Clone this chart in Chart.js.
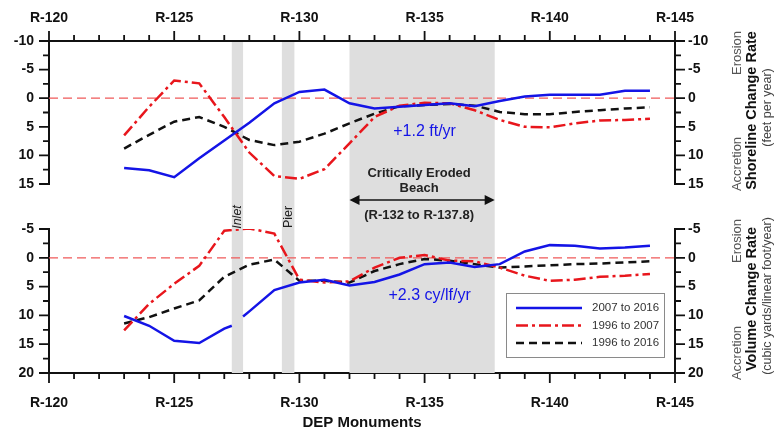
<!DOCTYPE html>
<html>
<head>
<meta charset="utf-8">
<script src="https://cdn.jsdelivr.net/npm/chart.js@4.4.0/dist/chart.umd.min.js"></script>
<style>
  html, body { margin: 0; padding: 0; background: #fff; }
  #wrap { position: relative; width: 776px; height: 428px; }
  #wrap canvas { position: absolute; left: 0; top: 0; }
</style>
</head>
<body>
<div id="wrap">
  <canvas id="vol" width="776" height="428"></canvas>
  <canvas id="shore" width="776" height="428"></canvas>
</div>
<script>
// monuments R-123 .. R-144
const monuments = [123,124,125,126,127,128,129,130,131,132,133,134,135,136,137,138,139,140,141,142,143,144];
const seriesNames = ['2007 to 2016', '1996 to 2007', '1996 to 2016'];

// shoreline change rate (ft/yr), negative = erosion
const shoreBlue  = [12.2,12.6,13.8,10.5,7.4,4.3,0.9,-1.1,-1.5,0.9,1.8,1.5,1.2,0.9,1.4,0.5,-0.3,-0.6,-0.6,-0.6,-1.3,-1.3];
const shoreRed   = [6.5,1.5,-3.1,-2.6,3.3,9.5,13.6,14.1,12.4,7.9,3.3,1.3,0.8,0.9,2.1,3.8,5.0,5.1,4.4,3.9,3.8,3.6];
const shoreBlack = [8.8,6.4,4.1,3.3,5.0,7.3,8.2,7.6,6.2,4.4,2.7,1.4,1.2,1.0,1.3,2.4,2.8,2.8,2.4,2.1,1.8,1.6];

// volume change rate (cy/lf/yr)
const volBlue  = [10.1,11.8,14.4,14.8,12.3,9.3,5.6,4.3,3.8,4.8,4.2,2.9,1.1,0.8,1.6,1.1,-1.1,-2.2,-2.1,-1.6,-1.8,-2.1];
const volRed   = [12.6,8.0,4.5,1.4,-4.7,-5.1,-4.2,3.8,4.3,4.1,1.7,0.0,-0.5,0.5,0.6,1.7,3.1,4.0,3.8,3.3,3.1,2.8];
const volBlack = [11.4,10.3,8.8,7.4,3.3,1.2,0.3,4.0,4.0,4.3,2.3,1.1,0.2,0.5,1.1,1.7,1.5,1.3,1.1,1.0,0.8,0.6];
// blue volume line is broken across the inlet
const volBlueInletX = [127.3, 127.5, 127.75];
const volBlueInlet  = [11.8, null, 10.2];

const xTicks = [120,125,130,135,140,145];
const shoreTicks = [-10,-5,0,5,10,15];
const volTicks = [-5,0,5,10,15,20];

// shaded areas along the beach
const bandStart = [127.3, 129.3, 132];
const bandEnd   = [127.75, 129.8, 137.8];
const bandLabel = ['Inlet', 'Pier', ''];

const FONT = "'Liberation Sans', Arial, sans-serif";
const colors = ['#1414e6', '#e8161c', '#111111'];
const dashes = [[], [12,4,3,4], [8,5]];

function pts(xs, ys) { return xs.map((x, i) => ({x: x, y: ys[i]})); }

function makeSets(ys) {
  return ys.map((d, i) => ({
    label: seriesNames[i], data: d,
    borderColor: colors[i], borderDash: dashes[i], borderWidth: 2.5,
    pointRadius: 0, tension: 0, spanGaps: false, fill: false
  }));
}

function yScale(pos, lo, hi, ticks) {
  return {
    type: 'linear', position: pos, reverse: true, min: lo, max: hi,
    afterBuildTicks: s => { s.ticks = ticks.map(v => ({value: v})); },
    afterFit: s => { s.width = pos === 'left' ? 49 : 101; },
    grid: {display: false, drawTicks: false, tickLength: 0},
    border: {display: true, color: '#111', width: 2},
    ticks: {padding: pos === 'left' ? 15 : 13, color: '#111', font: {family: FONT, size: 14, weight: 'bold'}}
  };
}

function xScale(pos, h, pad, title) {
  return {
    type: 'linear', position: pos, min: 120, max: 145,
    afterBuildTicks: s => { s.ticks = xTicks.map(v => ({value: v})); },
    afterFit: s => { s.height = h; },
    grid: {display: false, drawTicks: false, tickLength: 0},
    border: {display: true, color: '#111', width: 2},
    ticks: {padding: pad, color: '#111', maxRotation: 0, autoSkip: false,
            font: {family: FONT, size: 14, weight: 'bold'}, callback: v => 'R-' + v},
    title: title ? {display: true, text: title, color: '#111', padding: 0,
                    font: {family: FONT, size: 15, weight: 'bold', lineHeight: 0.75}} : {display: false}
  };
}

function axisTicks(chart) {
  const {ctx, chartArea: a, scales} = chart;
  ctx.save();
  ctx.strokeStyle = '#111'; ctx.lineWidth = 1.8; ctx.setLineDash([]);
  ctx.beginPath();
  const x = scales.x;
  for (let v = x.min; v <= x.max; v++) {
    const px = x.getPixelForValue(v), len = v % 5 === 0 ? 10 : 6;
    if (x.position === 'top') { ctx.moveTo(px, a.top); ctx.lineTo(px, a.top - len); }
    else { ctx.moveTo(px, a.bottom); ctx.lineTo(px, a.bottom + len); }
  }
  [scales.y, scales.yR].forEach(s => {
    const x0 = s.position === 'left' ? a.left : a.right;
    const dir = s.position === 'left' ? -1 : 1;
    for (let v = s.min; v <= s.max; v += 2.5) {
      const py = s.getPixelForValue(v), len = v % 5 === 0 ? 10 : 6;
      ctx.moveTo(x0, py); ctx.lineTo(x0 + dir * len, py);
    }
  });
  ctx.stroke();
  ctx.restore();
}

function zeroLine(chart) {
  const {ctx, chartArea: a, scales} = chart;
  const y = scales.y.getPixelForValue(0);
  ctx.save();
  ctx.strokeStyle = '#f05a5a'; ctx.lineWidth = 1.2; ctx.setLineDash([9, 5]);
  ctx.beginPath(); ctx.moveTo(a.left, y); ctx.lineTo(a.right, y); ctx.stroke();
  ctx.restore();
}

function vText(ctx, text, x, y, font, color) {
  ctx.save();
  ctx.translate(x, y); ctx.rotate(-Math.PI / 2);
  ctx.font = font; ctx.fillStyle = color;
  ctx.textAlign = 'center'; ctx.textBaseline = 'middle';
  ctx.fillText(text, 0, 0);
  ctx.restore();
}

function sideTitles(chart, title, unit) {
  const {ctx, chartArea: a} = chart;
  const mid = (a.top + a.bottom) / 2;
  vText(ctx, 'Erosion', a.right + 62, a.top + 12, '13px ' + FONT, '#555');
  vText(ctx, 'Accretion', a.right + 62, a.bottom - 20, '13px ' + FONT, '#555');
  vText(ctx, title, a.right + 77, mid - 2, 'bold 14.5px ' + FONT, '#111');
  vText(ctx, unit, a.right + 93, mid - 5, '12.5px ' + FONT, '#444');
}

// ---------- top: shoreline change ----------
const shoreChart = new Chart(document.getElementById('shore'), {
  type: 'line',
  data: {datasets: makeSets([pts(monuments, shoreBlue), pts(monuments, shoreRed), pts(monuments, shoreBlack)])},
  options: {
    responsive: false, animation: false,
    layout: {padding: {left: 0, right: 0, top: 0, bottom: 244}},
    scales: {
      x: xScale('top', 41, 14),
      y: yScale('left', -10, 15, shoreTicks),
      yR: yScale('right', -10, 15, shoreTicks)
    },
    plugins: {legend: {display: false}, tooltip: {enabled: false}}
  },
  plugins: [{
    id: 'shoreDecor',
    beforeDatasetsDraw(chart) { zeroLine(chart); },
    afterDraw(chart) {
      const {ctx, chartArea: a, scales} = chart;
      axisTicks(chart);
      sideTitles(chart, 'Shoreline Change Rate', '(feet per year)');
      ctx.save();
      ctx.fillStyle = '#1414e6'; ctx.font = '16px ' + FONT;
      ctx.textAlign = 'center'; ctx.textBaseline = 'middle';
      ctx.fillText('+1.2 ft/yr', scales.x.getPixelForValue(135), scales.y.getPixelForValue(5.9));
      // critically eroded beach note
      const x0 = scales.x.getPixelForValue(bandStart[2]), x1 = scales.x.getPixelForValue(bandEnd[2]);
      const cx = (x0 + x1) / 2 - 3;
      ctx.fillStyle = '#222'; ctx.font = 'bold 13px ' + FONT;
      ctx.fillText('Critically Eroded', cx, a.bottom - 11);
      ctx.fillText('Beach', cx, a.bottom + 4);
      ctx.fillText('(R-132 to R-137.8)', cx, a.bottom + 31);
      const ay = a.bottom + 16;
      ctx.strokeStyle = '#111'; ctx.lineWidth = 1.5;
      ctx.beginPath(); ctx.moveTo(x0 + 8, ay); ctx.lineTo(x1 - 8, ay); ctx.stroke();
      ctx.fillStyle = '#111';
      ctx.beginPath(); ctx.moveTo(x0, ay); ctx.lineTo(x0 + 10, ay - 5); ctx.lineTo(x0 + 10, ay + 5); ctx.closePath(); ctx.fill();
      ctx.beginPath(); ctx.moveTo(x1, ay); ctx.lineTo(x1 - 10, ay - 5); ctx.lineTo(x1 - 10, ay + 5); ctx.closePath(); ctx.fill();
      ctx.restore();
    }
  }]
});

// ---------- bottom: volume change ----------
const blueVolPts = pts(monuments, volBlue).concat(pts(volBlueInletX, volBlueInlet)).sort((p, q) => p.x - q.x);
const plotTop = shoreChart.chartArea.top;

new Chart(document.getElementById('vol'), {
  type: 'line',
  data: {datasets: makeSets([blueVolPts, pts(monuments, volRed), pts(monuments, volBlack)])},
  options: {
    responsive: false, animation: false,
    layout: {padding: {left: 0, right: 0, top: 229, bottom: 0}},
    scales: {
      x: xScale('bottom', 55, 22, 'DEP Monuments'),
      y: yScale('left', -5, 20, volTicks),
      yR: yScale('right', -5, 20, volTicks)
    },
    plugins: {legend: {display: false}, tooltip: {enabled: false}}
  },
  plugins: [{
    id: 'volDecor',
    beforeDatasetsDraw(chart) {
      const {ctx, chartArea: a, scales} = chart;
      ctx.save();
      ctx.fillStyle = '#dedede';
      bandStart.forEach((s, i) => {
        const x0 = scales.x.getPixelForValue(s), x1 = scales.x.getPixelForValue(bandEnd[i]);
        ctx.fillRect(x0, plotTop, x1 - x0, a.bottom - plotTop);
      });
      ctx.restore();
      zeroLine(chart);
    },
    afterDatasetsDraw(chart) {
      const {ctx, chartArea: a, scales} = chart;
      bandLabel.forEach((t, i) => {
        if (!t) return;
        const cx = scales.x.getPixelForValue((bandStart[i] + bandEnd[i]) / 2);
        vText(ctx, t, cx, a.top - 12, (i === 0 ? 'italic ' : '') + '12.5px ' + FONT, '#222');
      });
    },
    afterDraw(chart) {
      const {ctx, chartArea: a, scales} = chart;
      axisTicks(chart);
      sideTitles(chart, 'Volume Change Rate', '(cubic yards/linear foot/year)');
      ctx.save();
      ctx.fillStyle = '#1414e6'; ctx.font = '16px ' + FONT;
      ctx.textAlign = 'center'; ctx.textBaseline = 'middle';
      ctx.fillText('+2.3 cy/lf/yr', scales.x.getPixelForValue(135.2), scales.y.getPixelForValue(6.6));
      // legend
      const lx = a.right - 169, ly = a.top + 64, lw = 158, lh = 64;
      ctx.fillStyle = '#fff'; ctx.fillRect(lx, ly, lw, lh);
      ctx.strokeStyle = '#8a8a8a'; ctx.lineWidth = 1; ctx.setLineDash([]);
      ctx.strokeRect(lx + 0.5, ly + 0.5, lw, lh);
      chart.data.datasets.forEach((ds, i) => {
        const yy = ly + 15 + i * 17.5;
        ctx.strokeStyle = ds.borderColor; ctx.lineWidth = ds.borderWidth; ctx.setLineDash(ds.borderDash);
        ctx.beginPath(); ctx.moveTo(lx + 10, yy); ctx.lineTo(lx + 76, yy); ctx.stroke();
        ctx.fillStyle = '#333'; ctx.font = '11.5px ' + FONT; ctx.textAlign = 'left';
        ctx.fillText(ds.label, lx + 86, yy);
      });
      ctx.restore();
    }
  }]
});
</script>
</body>
</html>
